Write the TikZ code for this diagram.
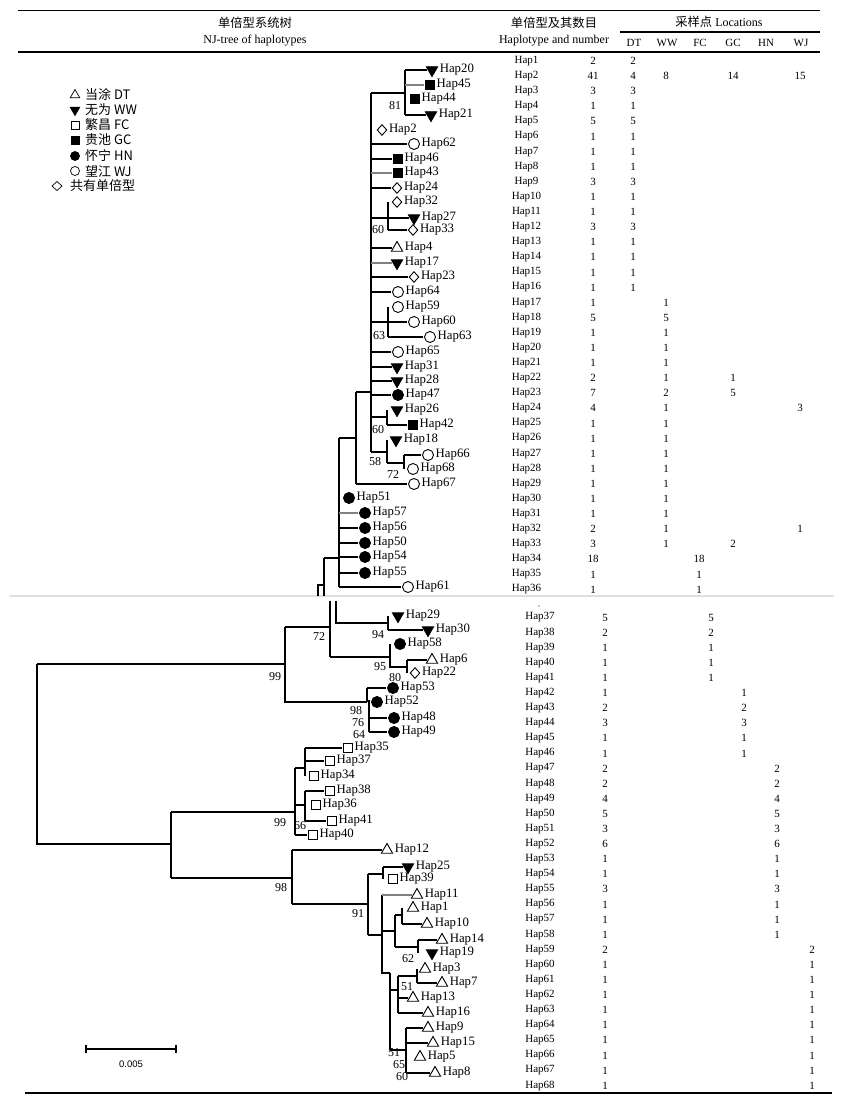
\documentclass[tikz,border=0pt]{standalone}
\usepackage{fontspec}
\setmainfont{Liberation Serif}
\newfontfamily\cjk{Noto Sans CJK SC}
\newfontfamily\arialf{Liberation Sans}
\usetikzlibrary{shapes.geometric}
\def\offDT{6.4pt}\def\offWW{6.4pt}\def\offFC{5.3pt}\def\offGC{5.3pt}
\def\offHN{6.3pt}\def\offWJ{6.3pt}\def\offSH{5.6pt}
\newcommand{\hapleaf}[4]{\node[#1] (h#2) at (#3,#4) {}; \node[lab, xshift=\csname off#1\endcsname] (l#2) at (#3,#4) {Hap#2};}
\begin{document}
\begin{tikzpicture}[x=1pt,y=-1pt,
  br/.style={line width=1.1pt},
  thk/.style={line width=1.8pt},
  sym/.style={draw, line width=0.9pt, inner sep=0pt, outer sep=0pt},
  DT/.style={sym, regular polygon, regular polygon sides=3, minimum size=13pt},
  WW/.style={sym, fill, regular polygon, regular polygon sides=3, shape border rotate=180, minimum size=13pt},
  FC/.style={sym, rectangle, minimum size=9pt},
  GC/.style={sym, fill, rectangle, minimum size=9pt},
  HN/.style={sym, fill, circle, minimum size=11pt},
  WJ/.style={sym, circle, minimum size=11pt},
  SH/.style={sym, diamond, minimum width=9.5pt, minimum height=10.5pt},
  lab/.style={anchor=west, inner sep=1.2pt, font=\fontsize{12.8}{13}\selectfont},
  bs/.style={inner sep=0pt, font=\fontsize{12}{12}\selectfont},
  tab/.style={inner sep=0pt, font=\fontsize{11}{11}\selectfont},
  hd/.style={inner sep=0pt, font=\fontsize{12}{12}\selectfont},
  hdc/.style={inner sep=0pt, font=\cjk\fontsize{12.3}{12.3}\selectfont},
  leg/.style={anchor=west, inner sep=0pt, font=\cjk\fontsize{13}{13}\selectfont},
  lsym/.style={line width=0.7pt}
]
\useasboundingbox (0,0) rectangle (844,1105);
\fill[white] (0,0) rectangle (844,1105);

% ---------- rules and header ----------
\draw[line width=1.4pt] (18,10.5) -- (820,10.5);
\draw[line width=1.1pt] (620,32) -- (820,32);
\draw[line width=1.3pt] (18,52) -- (820,52);
\draw[line width=1.4pt] (25,1093) -- (832,1093);
\draw[gray!25, line width=1.6pt] (10,596) -- (834,596);

\node[hdc] (hd1) at (255,23) {单倍型系统树};
\node[hd] (hd2) at (255,41) {NJ-tree of haplotypes};
\node[hdc] (hd3) at (554,23) {单倍型及其数目};
\node[hd] (hd4) at (554,41) {Haplotype and number};
\node[hd] (hd5) at (719,22) {{\cjk\fontsize{12.3}{12.3}\selectfont 采样点} Locations};
\foreach \x/\s in {634/DT,667/WW,700/FC,733/GC,766/HN,801/WJ}
  \node[hd, font=\fontsize{11}{11}\selectfont] (col\s) at (\x,43) {\s};

% ---------- table ----------
\foreach \i/\c in {1/2,2/41,3/3,4/1,5/5,6/1,7/1,8/1,9/3,10/1,11/1,12/3,13/1,14/1,15/1,16/1,17/1,18/5,19/1,20/1,21/1,22/2,23/7,24/4,25/1,26/1,27/1,28/1,29/1,30/1,31/1,32/2,33/3,34/18,35/1,36/1}{
  \node[tab] (t\i) at (526.5,{61+(\i-1)*15.1}) {Hap\i};
  \node[tab] (c\i) at (593,{61+(\i-1)*15.1}) {\c};
}
\foreach \i/\x/\v in {1/633/2,2/633/4,2/666/8,2/733/14,2/800/15,3/633/3,4/633/1,5/633/5,6/633/1,7/633/1,8/633/1,9/633/3,10/633/1,11/633/1,12/633/3,13/633/1,14/633/1,15/633/1,16/633/1,17/666/1,18/666/5,19/666/1,20/666/1,21/666/1,22/666/1,22/733/1,23/666/2,23/733/5,24/666/1,24/800/3,25/666/1,26/666/1,27/666/1,28/666/1,29/666/1,30/666/1,31/666/1,32/666/1,32/800/1,33/666/1,33/733/2,34/699/18,35/699/1,36/699/1}
  \node[tab] (s\i-\x) at (\x,{61+(\i-1)*15.1}) {\v};

\foreach \i/\c in {37/5,38/2,39/1,40/1,41/1,42/1,43/2,44/3,45/1,46/1,47/2,48/2,49/4,50/5,51/3,52/6,53/1,54/1,55/3,56/1,57/1,58/1,59/2,60/1,61/1,62/1,63/1,64/1,65/1,66/1,67/1,68/1}{
  \node[tab] (t\i) at (540,{617.5+(\i-37)*15.1}) {Hap\i};
  \node[tab] (c\i) at (605,{617.5+(\i-37)*15.1}) {\c};
}
\foreach \i/\x/\v in {37/711/5,38/711/2,39/711/1,40/711/1,41/711/1,42/744/1,43/744/2,44/744/3,45/744/1,46/744/1,47/777/2,48/777/2,49/777/4,50/777/5,51/777/3,52/777/6,53/777/1,54/777/1,55/777/3,56/777/1,57/777/1,58/777/1,59/812/2,60/812/1,61/812/1,62/812/1,63/812/1,64/812/1,65/812/1,66/812/1,67/812/1,68/812/1}
  \node[tab] (s\i-\x) at (\x,{617.5+(\i-37)*15.1}) {\v};
\fill (539,606) circle (0.7);

% ---------- legend ----------
\node[DT, lsym, minimum size=11pt] (g1) at (75,95) {};   \node[leg] (gt1) at (85,95) {当涂 DT};
\node[WW, lsym, minimum size=11pt] (g2) at (75,110) {};  \node[leg] (gt2) at (85,110) {无为 WW};
\node[FC, lsym, minimum size=8pt] (g3) at (75,125) {};   \node[leg] (gt3) at (85,125) {繁昌 FC};
\node[GC, lsym, minimum size=8pt] (g4) at (75,140) {};   \node[leg] (gt4) at (85,140) {贵池 GC};
\node[HN, lsym, minimum size=9pt] (g5) at (75,156) {};   \node[leg] (gt5) at (85,156) {怀宁 HN};
\node[WJ, lsym, minimum size=9pt] (g6) at (75,171) {};   \node[leg] (gt6) at (85,171) {望江 WJ};
\node[SH, lsym, minimum width=10pt, minimum height=9pt] (g7) at (57,186) {}; \node[leg] (gt7) at (70,186) {共有单倍型};

% ---------- leaves, upper part ----------
\hapleaf{WW}{20}{432}{70}
\hapleaf{GC}{45}{430}{85}
\hapleaf{GC}{44}{415}{99}
\hapleaf{WW}{21}{431}{115}
\hapleaf{SH}{2}{382}{130}
\hapleaf{WJ}{62}{414}{144}
\hapleaf{GC}{46}{398}{159}
\hapleaf{GC}{43}{398}{173}
\hapleaf{SH}{24}{397}{188}
\hapleaf{SH}{32}{397}{202}
\hapleaf{WW}{27}{414}{218}
\hapleaf{SH}{33}{413}{230}
\hapleaf{DT}{4}{397}{248}
\hapleaf{WW}{17}{397}{263}
\hapleaf{SH}{23}{414}{277}
\hapleaf{WJ}{64}{398}{292}
\hapleaf{WJ}{59}{398}{307}
\hapleaf{WJ}{60}{414}{322}
\hapleaf{WJ}{63}{430}{337}
\hapleaf{WJ}{65}{398}{352}
\hapleaf{WW}{31}{397}{367}
\hapleaf{WW}{28}{397}{381}
\hapleaf{HN}{47}{398}{395}
\hapleaf{WW}{26}{397}{410}
\hapleaf{GC}{42}{413}{425}
\hapleaf{WW}{18}{396}{440}
\hapleaf{WJ}{66}{428}{455}
\hapleaf{WJ}{68}{413}{469}
\hapleaf{WJ}{67}{414}{484}
\hapleaf{HN}{51}{349}{498}
\hapleaf{HN}{57}{365}{513}
\hapleaf{HN}{56}{365}{528}
\hapleaf{HN}{50}{365}{543}
\hapleaf{HN}{54}{365}{557}
\hapleaf{HN}{55}{365}{573}
\hapleaf{WJ}{61}{408}{587}

% ---------- leaves, lower part ----------
\hapleaf{WW}{29}{398}{616}
\hapleaf{WW}{30}{428}{630}
\hapleaf{HN}{58}{400}{644}
\hapleaf{DT}{6}{432}{660}
\hapleaf{SH}{22}{415}{673}
\hapleaf{HN}{53}{393}{688}
\hapleaf{HN}{52}{377}{702}
\hapleaf{HN}{48}{394}{718}
\hapleaf{HN}{49}{394}{732}
\hapleaf{FC}{35}{348}{748}
\hapleaf{FC}{37}{330}{761}
\hapleaf{FC}{34}{314}{776}
\hapleaf{FC}{38}{330}{791}
\hapleaf{FC}{36}{316}{805}
\hapleaf{FC}{41}{332}{821}
\hapleaf{FC}{40}{313}{835}
\hapleaf{DT}{12}{387}{850}
\hapleaf{WW}{25}{408}{867}
\hapleaf{FC}{39}{393}{879}
\hapleaf{DT}{11}{417}{895}
\hapleaf{DT}{1}{413}{908}
\hapleaf{DT}{10}{427}{924}
\hapleaf{DT}{14}{442}{940}
\hapleaf{WW}{19}{432}{953}
\hapleaf{DT}{3}{425}{969}
\hapleaf{DT}{7}{442}{983}
\hapleaf{DT}{13}{413}{998}
\hapleaf{DT}{16}{428}{1013}
\hapleaf{DT}{9}{428}{1028}
\hapleaf{DT}{15}{433}{1043}
\hapleaf{DT}{5}{420}{1057}
\hapleaf{DT}{8}{435}{1073}

% ---------- internal nodes ----------
\coordinate (n81) at (405,93);
\coordinate (nM) at (371,392);
\coordinate (n60a) at (388,218);
\coordinate (n63) at (388,322);
\coordinate (n60b) at (387,417);
\coordinate (n58) at (387,452);
\coordinate (n72a) at (404,463);
\coordinate (nP) at (356,438);
\coordinate (nQ) at (339,558);
\coordinate (nR) at (324,596);
\coordinate (nS) at (318,585);
\coordinate (nS2) at (318,596);

\coordinate (nT0) at (330,601);
\coordinate (nT) at (330,627);
\coordinate (nU0) at (336,601);
\coordinate (nU) at (336,623);
\coordinate (n94) at (388,623);
\coordinate (n95) at (390,657);
\coordinate (n80) at (407,667);
\coordinate (n99a) at (285,664);
\coordinate (nV) at (367,702);
\coordinate (nW) at (369,700);
\coordinate (root) at (37,754);
\coordinate (n171) at (171,844);
\coordinate (n99b) at (295,812);
\coordinate (nFa) at (305,768);
\coordinate (nFb) at (305,805);
\coordinate (n98b) at (292,878);
\coordinate (n91) at (368,904);
\coordinate (n25) at (383,874);
\coordinate (nA) at (382,935);
\coordinate (nB) at (395,931);
\coordinate (nB1) at (402,915);
\coordinate (nB2) at (418,947);
\coordinate (nC) at (390,973);
\coordinate (nD) at (398,990);
\coordinate (nE) at (417,976);
\coordinate (nF) at (406,1050);

% ---------- branches, upper part ----------
\begin{scope}[br, shorten >=1.5pt]
\draw[shorten >=0pt] (n81 |- h20) -- (n81 |- h21);
\draw (n81 |- h20) -- (h20);
\draw[gray] (n81 |- h45) -- (h45);
\draw (n81 |- h21) -- (h21);
\draw[shorten >=0pt] (nM |- n81) -- (n81);
\draw[shorten >=0pt] (nM |- n81) -- (nM |- n58);
\draw[thk] (nM |- h62) -- (h62);
\draw (nM |- h46) -- (h46);
\draw[gray] (nM |- h43) -- (h43);
\draw (nM |- h24) -- (h24);
\draw[thk] (nM |- h27) -- (h27);
\draw[shorten >=0pt] (n60a |- h32) -- (n60a |- h33);
\draw (n60a |- h33) -- (h33);
\draw (nM |- h4) -- (h4);
\draw[gray] (nM |- h17) -- (h17);
\draw (nM |- h23) -- (h23);
\draw[thk] (nM |- h64) -- (h64);
\draw[shorten >=0pt] (n63 |- h59) -- (n63 |- h63);
\draw[thk] (nM |- h60) -- (h60);
\draw (n63 |- h63) -- (h63);
\draw (nM |- h65) -- (h65);
\draw (nM |- h31) -- (h31);
\draw[thk] (nM |- h28) -- (h28);
\draw (nM |- h47) -- (h47);
\draw[shorten >=0pt] (nM |- n60b) -- (n60b);
\draw[shorten >=0pt] (n60b |- h26) -- (n60b |- h42);
\draw (n60b |- h42) -- (h42);
\draw[shorten >=0pt] (nM |- n58) -- (n58);
\draw[shorten >=0pt] (n58 |- h18) -- (n58 |- n72a);
\draw[thk, shorten >=0pt] (n58 |- n72a) -- (n72a);
\draw[shorten >=0pt] (n72a |- h66) -- (n72a |- h68);
\draw (n72a |- h66) -- (h66);
\draw[shorten >=0pt] (nP |- nM) -- (nM);
\draw[shorten >=0pt] (nP |- nM) -- (nP |- h67);
\draw (nP |- h67) -- (h67);
\draw[shorten >=0pt] (nQ |- nP) -- (nP);
\draw[shorten >=0pt] (nQ |- nP) -- (nQ |- h61);
\draw[thk, shorten >=0pt] (nQ |- h51) -- (nQ |- h55);
\draw[gray] (nQ |- h57) -- (h57);
\draw (nQ |- h56) -- (h56);
\draw (nQ |- h50) -- (h50);
\draw (nQ |- h54) -- (h54);
\draw (nQ |- h55) -- (h55);
\draw (nQ |- h61) -- (h61);
\draw[shorten >=0pt] (nR |- nQ) -- (nQ);
\draw[shorten >=0pt] (nR |- nQ) -- (nR);
\draw[shorten >=0pt] (nR |- nS) -- (nS) -- (nS2);

% ---------- branches, lower part ----------
\draw[shorten >=0pt] (nT0) -- (nT0 |- n95);
\draw[shorten >=0pt] (nU0) -- (nU) -- (n94);
\draw[shorten >=0pt] (n94 |- h29) -- (n94 |- h30);
\draw (n94 |- h30) -- (h30);
\draw[shorten >=0pt] (nT0 |- n95) -- (n95);
\draw[shorten >=0pt] (n95 |- h58) -- (n95 |- n80) -- (n80);
\draw[shorten >=0pt] (n80 |- h6) -- (n80 |- h22);
\draw (n80 |- h6) -- (h6);
\draw[shorten >=0pt] (n99a |- nT) -- (nT);
\draw[shorten >=0pt] (n99a |- nT) -- (n99a |- nV) -- (nV);
\draw[shorten >=0pt] (nV |- h53) -- (nV);
\draw (nV |- h53) -- (h53);
\draw[thk, shorten >=0pt] (nW) -- (nW |- h49);
\draw (nW |- h48) -- (h48);
\draw (nW |- h49) -- (h49);
\draw[shorten >=0pt] (root |- n99a) -- (n99a);
\draw[shorten >=0pt] (root |- n99a) -- (root |- n171) -- (n171);
\draw[shorten >=0pt] (n171 |- n99b) -- (n171 |- n98b);
\draw[shorten >=0pt] (n171 |- n99b) -- (n99b);
\draw[shorten >=0pt] (n171 |- n98b) -- (n98b);
\draw[shorten >=0pt] (n99b |- nFa) -- (n99b |- h40);
\draw[shorten >=0pt] (n99b |- nFa) -- (nFa);
\draw[shorten >=0pt] (n99b |- nFb) -- (nFb);
\draw (n99b |- h40) -- (h40);
\draw[shorten >=0pt] (nFa |- h35) -- (nFa |- h34);
\draw (nFa |- h35) -- (h35);
\draw (nFa |- h37) -- (h37);
\draw[shorten >=0pt] (nFb |- h38) -- (nFb |- h41);
\draw (nFb |- h38) -- (h38);
\draw[thk] (nFb |- h41) -- (h41);
\draw[shorten >=0pt] (n98b |- h12) -- (n98b |- n91);
\draw (n98b |- h12) -- (h12);
\draw[shorten >=0pt] (n98b |- n91) -- (n91);
\draw[shorten >=0pt] (n91 |- n25) -- (n91 |- nA);
\draw[shorten >=0pt] (n91 |- n25) -- (n25);
\draw[shorten >=0pt] (n91 |- nA) -- (nA);
\draw[shorten >=0pt] (n25 |- h25) -- (n25 |- h39);
\draw (n25 |- h25) -- (h25);
\draw[shorten >=0pt] (nA |- h11) -- (nA |- nC) -- (nC);
\draw[gray] (nA |- h11) -- (h11);
\draw[shorten >=0pt] (nA |- nB) -- (nB);
\draw[shorten >=0pt] (nB |- nB1) -- (nB |- nB2);
\draw[shorten >=0pt] (nB |- nB1) -- (nB1);
\draw[thk, shorten >=0pt] (nB |- nB2) -- (nB2);
\draw[shorten >=0pt] (nB1 |- h1) -- (nB1 |- h10);
\draw[thk] (nB1 |- h10) -- (h10);
\draw[shorten >=0pt] (nB2 |- h14) -- (nB2 |- h19);
\draw[thk] (nB2 |- h14) -- (h14);
\draw[shorten >=0pt] (nC) -- (nC |- nF);
\draw[shorten >=0pt] (nC |- nD) -- (nD);
\draw[shorten >=0pt] (nC |- nF) -- (nF);
\draw[shorten >=0pt] (nD |- nE) -- (nD |- h16);
\draw[shorten >=0pt] (nD |- nE) -- (nE);
\draw (nD |- h13) -- (h13);
\draw (nD |- h16) -- (h16);
\draw[shorten >=0pt] (nE |- h3) -- (nE |- h7);
\draw (nE |- h7) -- (h7);
\draw[thk, shorten >=0pt] (nF |- h9) -- (nF |- h8);
\draw (nF |- h9) -- (h9);
\draw (nF |- h15) -- (h15);
\draw (nF |- h8) -- (h8);
\end{scope}

% ---------- bootstrap values ----------
\node[bs] (b81) at (395,106) {81};
\node[bs] (b60a) at (378,230) {60};
\node[bs] (b63) at (379,336) {63};
\node[bs] (b60b) at (378,430) {60};
\node[bs] (b58) at (375,462) {58};
\node[bs] (b72a) at (393,475) {72};
\node[bs] (b72) at (319,637) {72};
\node[bs] (b94) at (378,635) {94};
\node[bs] (b95) at (380,667) {95};
\node[bs] (b80) at (395,678) {80};
\node[bs] (b99a) at (275,677) {99};
\node[bs] (b98a) at (356,711) {98};
\node[bs] (b76) at (358,722.5) {76};
\node[bs] (b64) at (359,734.5) {64};
\node[bs] (b99b) at (280,823) {99};
\node[bs] (b66) at (300,826) {66};
\node[bs] (b98b) at (281,888) {98};
\node[bs] (b91) at (358,914) {91};
\node[bs] (b62) at (408,959) {62};
\node[bs] (b51a) at (407,987) {51};
\node[bs] (b51b) at (394,1053) {51};
\node[bs] (b65) at (399,1065) {65};
\node[bs] (b60c) at (402,1077) {60};

% ---------- scale bar ----------
\coordinate (sb1) at (86,1049);
\coordinate (sb2) at (176,1049);
\draw[line width=1.2pt] (sb1) -- (sb2);
\draw[line width=1.2pt] (sb1) ++(0,-4) -- ++(0,8);
\draw[line width=1.2pt] (sb2) ++(0,-4) -- ++(0,8);
\node[inner sep=0pt, font=\arialf\fontsize{9.5}{10}\selectfont] (sbl) at (131,1064) {0.005};
\end{tikzpicture}
\end{document}
